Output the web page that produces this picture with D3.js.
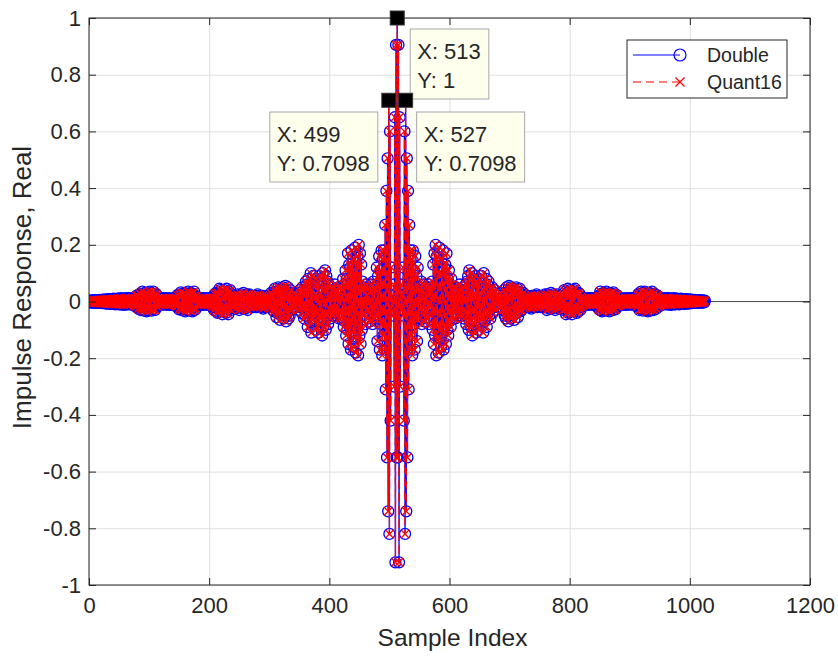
<!DOCTYPE html>
<html>
<head>
<meta charset="utf-8">
<script src="https://cdn.jsdelivr.net/npm/d3@7/dist/d3.min.js"></script>
<style>
  body { margin: 0; background: #fff; }
  text { font-family: "Liberation Sans", Arial, Helvetica, sans-serif; fill: #262626; }
</style>
</head>
<body>
<svg id="chart" width="838" height="658"></svg>
<script>
// Linear-phase filter taps, from the centre tap (index 513) outwards to the ends (index 1 / 1025).
const halfTaps = [
  1.000, -0.550, 0.905, -0.920, 0.650, -0.300, 0.060, -0.030, 0.020, -0.050,
  0.120, -0.420, 0.600, -0.820, 0.7098, -0.740, 0.505, -0.550, 0.390, -0.310,
  0.270, -0.170, 0.180,
  -0.120, 0.150, -0.190, 0.180, -0.080, 0.110, -0.170, 0.160, -0.060, 0.090,
  -0.140, 0.120, -0.050, 0.040,
  -0.060, 0.050, -0.030, 0.070, -0.080, 0.040, -0.020, 0.060, -0.070, 0.030,
  -0.040, 0.050, -0.060, 0.020, -0.030, 0.060, -0.080, 0.050, -0.020, 0.040,
  -0.050,
  0.070, -0.100, 0.130, -0.150, 0.170, -0.120, 0.200, -0.190, 0.160, -0.080,
  0.140, -0.180, 0.190, -0.130, 0.100, -0.160, 0.150, -0.110, 0.180, -0.170,
  0.120, -0.090, 0.130, -0.150, 0.170, -0.100, 0.080, -0.120, 0.110, -0.070,
  0.060, -0.090, 0.080, -0.050, 0.040, -0.060,
  0.050, -0.040, 0.030, -0.060, 0.050, -0.020, 0.040, -0.050, 0.030, -0.030,
  0.060, -0.040, 0.020, -0.050, 0.040, -0.030, 0.050, -0.060, 0.030,
  -0.040, 0.060, -0.080, 0.070, -0.050, 0.090, -0.100, 0.110, -0.070, 0.040,
  -0.090, 0.100, -0.120, 0.080, -0.060, 0.030, -0.080, 0.090, -0.110, 0.070,
  -0.040, 0.060, -0.100, 0.080, -0.050, 0.020, -0.070, 0.090, -0.060, 0.040,
  -0.110, 0.100, -0.070, 0.050, -0.030, 0.080, -0.090, 0.060, -0.040, 0.070,
  -0.050, 0.030, -0.060, 0.040, -0.020, 0.050, -0.040, 0.030, -0.020, 0.040,
  -0.030, 0.020, -0.010,
  0.020, -0.010, 0.020, -0.020, 0.010, -0.020, 0.030, -0.020, 0.010, -0.030,
  0.020,
  -0.030, 0.040, -0.050, 0.030, -0.060, 0.050, -0.040, 0.020, -0.070, 0.055,
  -0.030, 0.040, -0.060, 0.050, -0.020, 0.030, -0.050, 0.045, -0.065, 0.040,
  -0.030, 0.050, -0.040, 0.020, -0.055, 0.035, -0.025, 0.045, -0.035, 0.020,
  -0.030, 0.025, -0.020, 0.030, -0.015, 0.020, -0.010,
  0.015, -0.020, 0.010, -0.015, 0.020, -0.010, 0.015, -0.020, 0.010, -0.025,
  0.020, -0.015, 0.010, -0.020, 0.015, -0.010, 0.020, -0.015, 0.025, -0.020,
  0.010, -0.015, 0.020, -0.010, 0.015, -0.020, 0.010, -0.015, 0.020, -0.010,
  0.015,
  -0.020, 0.025, -0.015, 0.020, -0.030, 0.025, -0.010, 0.020, -0.025, 0.015,
  -0.020, 0.030, -0.025, 0.010, -0.020, 0.025, -0.015, 0.020, -0.030, 0.020,
  -0.010, 0.025, -0.020, 0.015, -0.025, 0.020, -0.010, 0.015, -0.020, 0.010,
  -0.015,
  0.020, -0.030, 0.040, -0.025, 0.035, -0.045, 0.030, -0.020, 0.045, -0.040,
  0.025, -0.035, 0.040, -0.030, 0.020, -0.045, 0.035, -0.025, 0.040, -0.030,
  0.045, -0.020, 0.030, -0.040, 0.025, -0.035, 0.030, -0.020, 0.025, -0.030,
  0.015, -0.020, 0.010, -0.015, 0.010,
  -0.010, 0.012, -0.008, 0.010, -0.012, 0.008, -0.010, 0.012, -0.008, 0.010,
  -0.012, 0.010, -0.008, 0.012, -0.010, 0.008, -0.012, 0.010, -0.008, 0.012,
  -0.010, 0.008,
  -0.012, 0.018, -0.025, 0.020, -0.030, 0.035, -0.020, 0.028, -0.035, 0.025,
  -0.015, 0.030, -0.032, 0.022, -0.028, 0.035, -0.018, 0.025, -0.030, 0.020,
  -0.035, 0.030, -0.022, 0.028, -0.025, 0.018, -0.030, 0.032, -0.020, 0.025,
  -0.028, 0.020, -0.015, 0.022, -0.018, 0.012, -0.015, 0.010, -0.012, 0.010,
  -0.008, 0.010, -0.008,
  0.010, -0.012, 0.008, -0.010, 0.012, -0.010, 0.008, -0.012, 0.010, -0.008,
  0.012, -0.010, 0.008, -0.010, 0.012, -0.008, 0.010, -0.012, 0.010, -0.008,
  0.012, -0.010,
  0.012, -0.018, 0.022, -0.015, 0.028, -0.030, 0.020, -0.025, 0.035, -0.028,
  0.018, -0.032, 0.030, -0.022, 0.035, -0.025, 0.020, -0.030, 0.028, -0.035,
  0.025, -0.018, 0.030, -0.032, 0.022, -0.028, 0.035, -0.020, 0.025, -0.030,
  0.028, -0.022, 0.018, -0.025, 0.022, -0.015, 0.020, -0.018, 0.012, -0.015,
  0.010, -0.012, 0.010, -0.008, 0.012, -0.010, 0.008, -0.010,
  0.010, -0.008, 0.012, -0.010, 0.008, -0.010, 0.012, -0.008, 0.010, -0.012,
  0.008, -0.010, 0.010, -0.008, 0.012, -0.010, 0.008, -0.010, 0.010, -0.008,
  0.010, -0.008, 0.008, -0.010, 0.008, -0.008, 0.010, -0.008, 0.008, -0.007,
  0.008, -0.008, 0.007, -0.008, 0.007, -0.006, 0.008, -0.007, 0.006, -0.007,
  0.006, -0.006, 0.007, -0.006, 0.005, -0.006, 0.006, -0.005, 0.005, -0.005,
  0.006, -0.005, 0.004, -0.005, 0.005, -0.004, 0.004, -0.004, 0.005, -0.004,
  0.003, -0.004, 0.004, -0.003, 0.003, -0.003, 0.003
];

const centreIndex = 513;
const numTaps = 1025;

// Sample indices 1..1025; the taps are symmetric about the centre one.
const sampleIndex = d3.range(1, numTaps + 1);
const doubleTaps = sampleIndex.map(i => halfTaps[Math.abs(i - centreIndex)]);
// The 16-bit quantised taps agree with the double ones to well below a pixel.
const quant16Taps = doubleTaps;

const xTicks = [0, 200, 400, 600, 800, 1000, 1200];
const yTicks = [-1, -0.8, -0.6, -0.4, -0.2, 0, 0.2, 0.4, 0.6, 0.8, 1];

const seriesNames = ["Double", "Quant16"];
const tipIndices = [513, 499, 527];

// ---- layout ----
const W = 838, H = 658;
const m = { left: 89, top: 18, right: 810, bottom: 585 };
const x = d3.scaleLinear().domain([0, 1200]).range([m.left, m.right]);
const y = d3.scaleLinear().domain([-1, 1]).range([m.bottom, m.top]);
const axisColor = "#262626";
const gridColor = "#dfdfdf";
const tickLen = 7;
const lw = 1.3;

const svg = d3.select("#chart");
svg.append("rect").attr("width", W).attr("height", H).attr("fill", "#fff");

// grid
svg.append("g").attr("transform", `translate(0,${m.bottom})`)
  .call(d3.axisBottom(x).tickValues(xTicks).tickSize(-(m.bottom - m.top)).tickFormat(""))
  .call(g => g.select(".domain").remove())
  .call(g => g.selectAll("line").attr("stroke", gridColor));
svg.append("g").attr("transform", `translate(${m.left},0)`)
  .call(d3.axisLeft(y).tickValues(yTicks).tickSize(-(m.right - m.left)).tickFormat(""))
  .call(g => g.select(".domain").remove())
  .call(g => g.selectAll("line").attr("stroke", gridColor));

// clipped plot area
svg.append("defs").append("clipPath").attr("id", "plotClip")
  .append("rect").attr("x", m.left).attr("y", m.top)
  .attr("width", m.right - m.left).attr("height", m.bottom - m.top);
const plot = svg.append("g").attr("clip-path", "url(#plotClip)");

// zero reference line
plot.append("line")
  .attr("x1", m.left).attr("x2", m.right)
  .attr("y1", y(0)).attr("y2", y(0))
  .attr("stroke", "#555").attr("stroke-width", 1);

const line = d3.line().x((d, i) => x(sampleIndex[i])).y(d => y(d));

// Double: blue solid line with open circles
plot.append("path").datum(doubleTaps)
  .attr("d", line).attr("fill", "none")
  .attr("stroke", "#0000ff").attr("stroke-width", lw);
plot.append("g").selectAll("circle").data(doubleTaps).join("circle")
  .attr("cx", (d, i) => x(sampleIndex[i])).attr("cy", d => y(d))
  .attr("r", 5.5).attr("fill", "none").attr("stroke", "#0000ff").attr("stroke-width", lw);

// Quant16: red dashed line with crosses
plot.append("path").datum(quant16Taps)
  .attr("d", line).attr("fill", "none")
  .attr("stroke", "#ff0000").attr("stroke-width", lw)
  .attr("stroke-dasharray", "8,5");
const crossPath = "M-4,-4L4,4M-4,4L4,-4";
plot.append("g").selectAll("path").data(quant16Taps).join("path")
  .attr("transform", (d, i) => `translate(${x(sampleIndex[i])},${y(d)})`)
  .attr("d", crossPath).attr("fill", "none")
  .attr("stroke", "#ff0000").attr("stroke-width", lw);

// axes box and inward ticks
svg.append("g").attr("transform", `translate(0,${m.bottom})`)
  .call(d3.axisBottom(x).tickValues(xTicks).tickSize(-tickLen).tickPadding(12).tickFormat(d3.format("d")))
  .call(g => g.select(".domain").remove())
  .call(g => g.selectAll("line").attr("stroke", axisColor))
  .call(g => g.selectAll("text").attr("font-size", 22).attr("fill", axisColor)
    .attr("font-family", "Liberation Sans, Arial, sans-serif"));
svg.append("g").attr("transform", `translate(0,${m.top})`)
  .call(d3.axisTop(x).tickValues(xTicks).tickSize(-tickLen).tickFormat(""))
  .call(g => g.select(".domain").remove())
  .call(g => g.selectAll("line").attr("stroke", axisColor));
svg.append("g").attr("transform", `translate(${m.left},0)`)
  .call(d3.axisLeft(y).tickValues(yTicks).tickSize(-tickLen).tickPadding(8)
    .tickFormat(d => String(+d.toFixed(1))))
  .call(g => g.select(".domain").remove())
  .call(g => g.selectAll("line").attr("stroke", axisColor))
  .call(g => g.selectAll("text").attr("font-size", 22).attr("fill", axisColor)
    .attr("font-family", "Liberation Sans, Arial, sans-serif"));
svg.append("g").attr("transform", `translate(${m.right},0)`)
  .call(d3.axisRight(y).tickValues(yTicks).tickSize(-tickLen).tickFormat(""))
  .call(g => g.select(".domain").remove())
  .call(g => g.selectAll("line").attr("stroke", axisColor));
svg.append("rect")
  .attr("x", m.left).attr("y", m.top)
  .attr("width", m.right - m.left).attr("height", m.bottom - m.top)
  .attr("fill", "none").attr("stroke", axisColor).attr("stroke-width", 1);

// axis labels
svg.append("text").attr("x", (m.left + m.right) / 2 + 3).attr("y", 646)
  .attr("text-anchor", "middle").attr("font-size", 24.5).text("Sample Index");
svg.append("text")
  .attr("transform", `translate(31,${(m.top + m.bottom) / 2 - 14}) rotate(-90)`)
  .attr("text-anchor", "middle").attr("font-size", 26).text("Impulse Response, Real");

// legend
const leg = svg.append("g");
leg.append("rect").attr("x", 627).attr("y", 40).attr("width", 160).attr("height", 58)
  .attr("fill", "#fff").attr("stroke", axisColor).attr("stroke-width", 1);
const rowY = [55, 82];
leg.append("line").attr("x1", 633).attr("x2", 680).attr("y1", rowY[0]).attr("y2", rowY[0])
  .attr("stroke", "#0000ff").attr("stroke-width", 1);
leg.append("circle").attr("cx", 680).attr("cy", rowY[0]).attr("r", 6)
  .attr("fill", "none").attr("stroke", "#0000ff").attr("stroke-width", 1.2);
leg.append("line").attr("x1", 633).attr("x2", 680).attr("y1", rowY[1]).attr("y2", rowY[1])
  .attr("stroke", "#ff0000").attr("stroke-width", 1).attr("stroke-dasharray", "8,5");
leg.append("path").attr("transform", `translate(680,${rowY[1]})`)
  .attr("d", "M-4.5,-4.5L4.5,4.5M-4.5,4.5L4.5,-4.5").attr("stroke", "#ff0000")
  .attr("stroke-width", 1.2).attr("fill", "none");
leg.selectAll("text.lab").data(seriesNames).join("text").attr("class", "lab")
  .attr("x", 707).attr("y", (d, i) => rowY[i]).attr("dy", "0.35em")
  .attr("font-size", 19.5).attr("fill", "#000").text(d => d);

// data tips
const tipLayout = {
  513: { anchor: "start", dx: 13, top: 29 },
  499: { anchor: "end", dx: -11, top: 112 },
  527: { anchor: "start", dx: 11, top: 112 }
};
const tipFont = 22;
tipIndices.forEach(idx => {
  const val = doubleTaps[idx - 1];
  const px = x(idx), py = y(val);
  const lay = tipLayout[idx];
  const g = svg.append("g");
  const lines = [`X: ${idx}`, `Y: ${+val.toFixed(4)}`];
  const box = g.append("rect").attr("fill", "#ffffee").attr("stroke", "#a8a8a8").attr("stroke-width", 1);
  const texts = g.selectAll("text").data(lines).join("text")
    .attr("font-size", tipFont).attr("fill", "#000").text(d => d);
  const widths = texts.nodes().map(n => n.getComputedTextLength());
  const bw = Math.max(...widths) + 15, bh = 70;
  const bx = lay.anchor === "start" ? px + lay.dx : px + lay.dx - bw;
  box.attr("x", bx).attr("y", lay.top).attr("width", bw).attr("height", bh);
  texts.attr("x", bx + 7).attr("y", (d, i) => lay.top + 30 + i * 29);
  svg.append("rect").attr("x", px - 7).attr("y", py - 7).attr("width", 14).attr("height", 14)
    .attr("fill", "#000").attr("stroke", "#333");
});
</script>
</body>
</html>
